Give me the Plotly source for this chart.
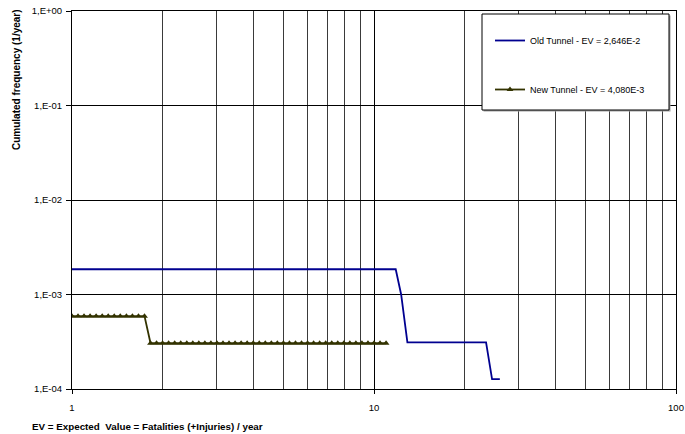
import plotly.graph_objects as go

# ---- data ----
old_x = [1.0, 11.8, 12.3, 12.9, 23.5, 24.6, 26.1]
old_y = [1.85e-3, 1.85e-3, 1.0e-3, 3.12e-4, 3.12e-4, 1.27e-4, 1.27e-4]

new_x = [1.000, 1.047, 1.096, 1.148, 1.202, 1.259, 1.318, 1.380, 1.445, 1.514,
         1.585, 1.660, 1.738, 1.820, 1.905, 1.995, 2.089, 2.188, 2.291, 2.399,
         2.512, 2.630, 2.754, 2.884, 3.020, 3.162, 3.311, 3.467, 3.631, 3.802,
         3.981, 4.169, 4.365, 4.571, 4.786, 5.012, 5.248, 5.495, 5.754, 6.026,
         6.310, 6.607, 6.918, 7.244, 7.586, 7.943, 8.318, 8.710, 9.120, 9.550,
         10.000, 10.471, 10.965]
new_y = [5.9e-4] * 13 + [3.05e-4] * 40

y_tickvals = [1e-4, 1e-3, 1e-2, 1e-1, 1e0]
y_ticktext = ["1,E-04", "1,E-03", "1,E-02", "1,E-01", "1,E+00"]
x_tickvals = [1, 10, 100]
x_ticktext = ["1", "10", "100"]

old_name = "Old Tunnel - EV = 2,646E-2"
new_name = "New Tunnel - EV = 4,080E-3"
y_title = "Cumulated frequency (1/year)"
x_title = "EV = Expected  Value = Fatalities (+Injuries) / year"

FONT = "Liberation Sans, Arial, sans-serif"

fig = go.Figure()
fig.add_trace(go.Scatter(x=old_x, y=old_y, mode="lines", name=old_name,
                         legendgroup="a",
                         line=dict(color="#000090", width=1.8)))
fig.add_trace(go.Scatter(x=new_x, y=new_y, mode="lines+markers", name=new_name,
                         legendgroup="b",
                         line=dict(color="#333300", width=1.8),
                         marker=dict(symbol="triangle-up", size=6, color="#333300")))

L, R, T, B = 72, 9, 11, 45
W, H = 685, 434
pw, ph = W - L - R, H - T - B

def px(xp):
    return (xp - L) / pw

def py(yp):
    return (H - B - yp) / ph

fig.update_layout(
    width=W, height=H,
    margin=dict(l=L, r=R, t=T, b=B, autoexpand=False),
    paper_bgcolor="white", plot_bgcolor="white",
    font=dict(family=FONT, size=10, color="black"),
    showlegend=True,
    legend=dict(x=px(490), y=py(26), xanchor="left", yanchor="top",
                bgcolor="rgba(0,0,0,0)", borderwidth=0,
                tracegroupgap=30, itemwidth=30,
                font=dict(family=FONT, size=9, color="black")),
    shapes=[
        dict(type="rect", xref="paper", yref="paper",
             x0=px(483.5), x1=px(670.5), y0=py(111.5), y1=py(15.5),
             line=dict(width=0), fillcolor="#a0a0a0", layer="above"),
        dict(type="rect", xref="paper", yref="paper",
             x0=px(482), x1=px(669), y0=py(110), y1=py(14),
             line=dict(color="black", width=1), fillcolor="white", layer="above"),
    ],
    annotations=[
        dict(text="<b>" + y_title + "</b>", xref="paper", yref="paper",
             x=px(16), y=py(80), xanchor="center", yanchor="middle",
             textangle=-90, showarrow=False,
             font=dict(family=FONT, size=10, color="black")),
        dict(text="<b>" + x_title + "</b>", xref="paper", yref="paper",
             x=px(30), y=py(426), xanchor="left", yanchor="middle",
             showarrow=False,
             font=dict(family=FONT, size=9.8, color="black")),
    ],
)

fig.update_xaxes(type="log", range=[0, 2],
                 tickvals=x_tickvals, ticktext=x_ticktext,
                 ticks="outside", ticklen=4, tickcolor="black",
                 ticklabelstandoff=6,
                 showgrid=True, gridcolor="black", gridwidth=1,
                 minor=dict(showgrid=True, gridcolor="#3a3a3a", gridwidth=1,
                            tickvals=[2, 3, 4, 5, 6, 7, 8, 9,
                                      20, 30, 40, 50, 60, 70, 80, 90],
                            ticks=""),
                 showline=True, linecolor="black", linewidth=1, mirror=True,
                 zeroline=False,
                 tickfont=dict(family=FONT, size=9.5, color="black"))
fig.update_yaxes(type="log", range=[-4, 0],
                 tickvals=y_tickvals, ticktext=y_ticktext,
                 ticks="outside", ticklen=5, tickcolor="black",
                 ticklabelstandoff=2,
                 showgrid=True, gridcolor="black", gridwidth=1,
                 showline=True, linecolor="black", linewidth=1, mirror=True,
                 zeroline=False,
                 tickfont=dict(family=FONT, size=9.5, color="black"))

fig.write_html("out.html",
               config={"displayModeBar": False},
               post_script="document.body.style.margin='0';document.body.style.padding='0';")
